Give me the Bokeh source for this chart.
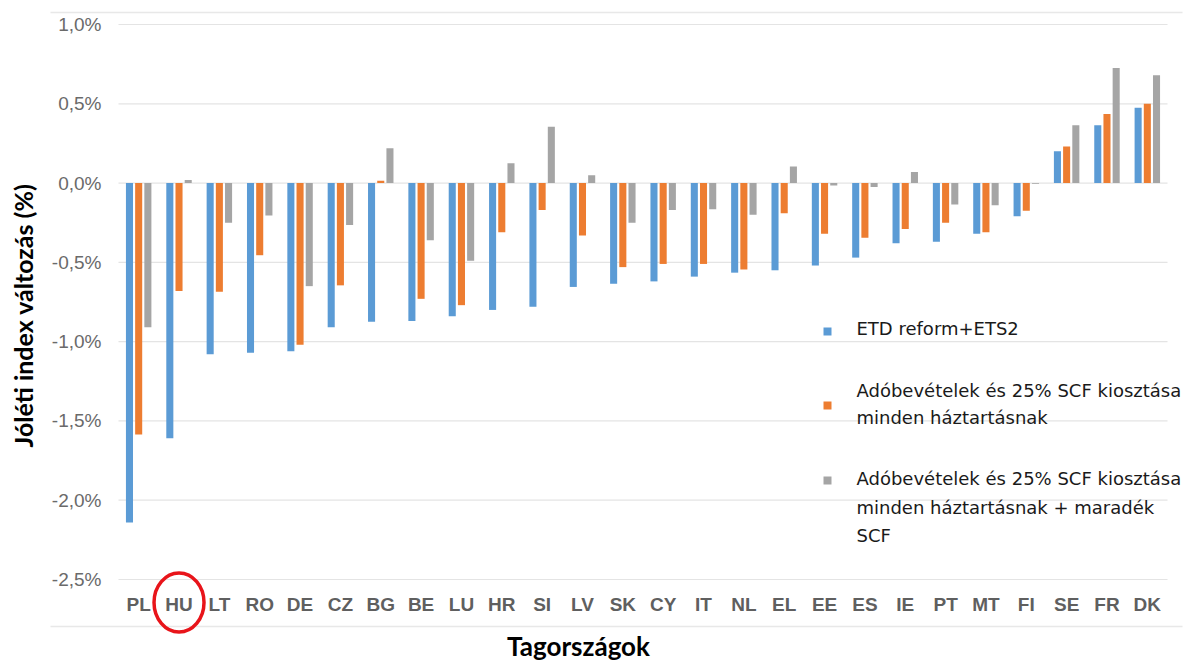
import numpy as np
from bokeh.plotting import figure
from bokeh.models import Range1d, ColumnDataSource
from bokeh.core.properties import value
from bokeh.embed import file_html
from bokeh.resources import INLINE

countries = ["PL", "HU", "LT", "RO", "DE", "CZ", "BG", "BE", "LU", "HR", "SI", "LV", "SK",
             "CY", "IT", "NL", "EL", "EE", "ES", "IE", "PT", "MT", "FI", "SE", "FR", "DK"]
etd_ets2 = [-2.14, -1.61, -1.08, -1.07, -1.06, -0.91, -0.875, -0.87, -0.84, -0.80, -0.78,
            -0.655, -0.635, -0.62, -0.59, -0.565, -0.55, -0.52, -0.47, -0.38, -0.37, -0.32,
            -0.21, 0.20, 0.365, 0.475]
scf25 = [-1.585, -0.68, -0.685, -0.455, -1.02, -0.645, 0.015, -0.73, -0.77, -0.31, -0.17,
         -0.33, -0.53, -0.51, -0.51, -0.545, -0.19, -0.32, -0.345, -0.29, -0.25, -0.31,
         -0.175, 0.23, 0.435, 0.50]
scf_rest = [-0.91, 0.02, -0.25, -0.205, -0.65, -0.265, 0.22, -0.36, -0.49, 0.125, 0.355,
            0.05, -0.25, -0.17, -0.165, -0.20, 0.105, -0.015, -0.025, 0.07, -0.135, -0.14,
            -0.005, 0.365, 0.725, 0.68]
y_ticks = [-2.5, -2.0, -1.5, -1.0, -0.5, 0.0, 0.5, 1.0]
y_title = "Jóléti index változás (%)"
x_title = "Tagországok"
highlight = "HU"
series_labels = [["ETD reform+ETS2"],
                 ["Adóbevételek és 25% SCF kiosztása", "minden háztartásnak"],
                 ["Adóbevételek és 25% SCF kiosztása", "minden háztartásnak + maradék", "SCF"]]
colors = ["#5B9BD5", "#ED7D31", "#A5A5A5"]

# ---- layout in canvas pixels ----
W, H = 1194, 661
PL_, PR_, PT_, PB_ = 118, 1167, 24, 579        # plot area edges (px)
n = len(countries)
y_top, y_bot = max(y_ticks), min(y_ticks)
ux = (PR_ - PL_) / n                            # px per category
uy = (PB_ - PT_) / (y_top - y_bot)              # px per unit


def dx(X):   # canvas px -> data x
    return (X - PL_) / ux


def dy(Y):   # canvas px -> data y
    return y_top - (Y - PT_) / uy


p = figure(width=W, height=H, output_backend="svg", toolbar_location=None,
           x_range=Range1d(dx(0), dx(W)), y_range=Range1d(dy(H), dy(0)),
           x_axis_type=None, y_axis_type=None,
           min_border=0, min_border_left=0, min_border_right=0,
           min_border_top=0, min_border_bottom=0)
p.outline_line_color = None
p.background_fill_color = "white"
p.border_fill_color = "white"
p.grid.visible = False

# outer chart border lines
p.segment(x0=dx(50), x1=dx(1182), y0=[dy(12), dy(626)], y1=[dy(12), dy(626)],
          line_color="#e8e8e8", line_width=1.5)

# horizontal gridlines
p.segment(x0=0, x1=n, y0=y_ticks, y1=y_ticks, line_color="#e4e4e4", line_width=1.2)

# bars
xc = np.arange(n) + 0.5
src = ColumnDataSource(dict(country=countries, x=xc, etd=etd_ets2, s25=scf25, srest=scf_rest))
off = 0.228
bw = 0.175
for col, o, c in zip(["etd", "s25", "srest"], [-off, 0, off], colors):
    p.vbar(x=xc + o, top=src.data[col], bottom=0, width=bw, fill_color=c, line_color=None)

# y tick labels
p.text(x=dx(101), y=y_ticks, text=[f"{t:.1f}".replace(".", ",") + "%" for t in y_ticks],
       text_align="right", text_baseline="middle", text_font=value("Liberation Sans"),
       text_font_size="19px", text_color="#6a6a6a")

# x tick labels
p.text(x="x", y=dy(604), text="country", source=src, text_align="center",
       text_baseline="middle", text_font=value("Liberation Sans"), text_font_style="bold",
       text_font_size="19px", text_color="#5f5f5f")

# axis titles
p.text(x=[dx(22)], y=[dy(315)], text=[y_title], angle=np.pi / 2, text_align="center",
       text_baseline="middle", text_font=value("Lato"), text_font_style="bold",
       text_font_size="25px", text_color="#000000")
p.text(x=[dx(578)], y=[dy(645)], text=[x_title], text_align="center",
       text_baseline="middle", text_font=value("Lato"), text_font_style="bold",
       text_font_size="26px", text_color="#000000")

# legend
marker_y = [331, 405, 480]
text_y = [[328], [390, 417], [478, 507, 535]]
for lab_lines, my, tys, c in zip(series_labels, marker_y, text_y, colors):
    p.scatter(x=[dx(827)], y=[dy(my)], marker="square", size=8, fill_color=c, line_color=None)
    p.text(x=[dx(856)] * len(lab_lines), y=[dy(t) for t in tys], text=lab_lines,
           text_align="left", text_baseline="middle", text_font=value("DejaVu Sans"),
           text_font_size="18px", text_color="#1a1a1a")

# red highlight ellipse around the highlighted country label
hi = countries.index(highlight)
p.ellipse(x=[xc[hi]], y=[dy(602)], width=50, height=59, width_units="screen",
          height_units="screen", fill_alpha=0, line_color="#e8141a", line_width=3.5)

open("out.html", "w").write(file_html(p, INLINE))
